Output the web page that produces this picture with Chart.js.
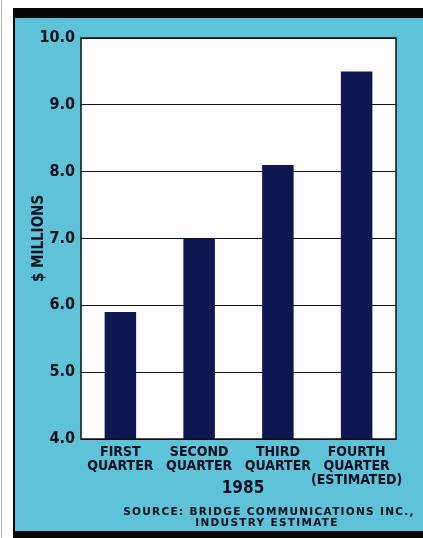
<!DOCTYPE html>
<html>
<head>
<meta charset="utf-8">
<script src="https://cdn.jsdelivr.net/npm/chart.js@4.4.1/dist/chart.umd.min.js"></script>
<style>
  html, body { margin: 0; padding: 0; background: #ffffff; }
  #wrap { position: relative; width: 423px; height: 538px; }
  canvas { display: block; }
</style>
</head>
<body>
<div id="wrap"><canvas id="c" width="423" height="538"></canvas></div>
<script>
// ---- data ----
const categories = [
  ["FIRST", "QUARTER"],
  ["SECOND", "QUARTER"],
  ["THIRD", "QUARTER"],
  ["FOURTH", "QUARTER", "(ESTIMATED)"]
];
const revenueMillions = [5.9, 7.0, 8.1, 9.5];
const yMin = 4.0;
const yMax = 10.0;
const yStep = 1.0;
const yTitle = "$ MILLIONS";
const yearLabel = "1985";
const sourceLines = ["SOURCE: BRIDGE COMMUNICATIONS INC.,", "INDUSTRY ESTIMATE"];

// ---- styles ----
const TEAL = "#5ec2d9";
const NAVY = "#0e1752";
const INK = "#0b0f1e";
const CONDENSED = "'Liberation Sans Narrow', 'DejaVu Sans Condensed', 'Liberation Sans', sans-serif";

const framePlugin = {
  id: "frame",
  beforeDraw(chart) {
    const ctx = chart.ctx;
    const W = chart.width, H = chart.height;
    const a = chart.chartArea;
    ctx.save();
    ctx.fillStyle = "#ffffff";
    ctx.fillRect(0, 0, W, H);
    // faint page edge line
    ctx.fillStyle = "#b8b8b8";
    ctx.fillRect(1, 0, 1, H);
    // teal panel
    ctx.fillStyle = TEAL;
    ctx.fillRect(14, 8, W - 14, H - 8);
    // black top band
    ctx.fillStyle = "#07070a";
    ctx.fillRect(13, 8, W - 13, 10);
    // left dark edge
    ctx.fillRect(13, 8, 2, H - 8);
    // bottom band
    ctx.fillRect(13, 531, W - 13, H - 531);
    // white plot area
    ctx.fillStyle = "#fdfdfd";
    ctx.fillRect(a.left, a.top, a.right - a.left, a.bottom - a.top);
    ctx.restore();
  },
  afterDatasetsDraw(chart) {
    const ctx = chart.ctx;
    const a = chart.chartArea;
    ctx.save();
    ctx.strokeStyle = "#111111";
    ctx.lineWidth = 1.5;
    ctx.strokeRect(a.left, a.top, a.right - a.left, a.bottom - a.top);
    ctx.restore();
  },
  afterDraw(chart) {
    const ctx = chart.ctx;
    ctx.save();
    ctx.fillStyle = INK;
    ctx.textAlign = "center";
    ctx.textBaseline = "middle";
    ctx.font = "bold 17px " + CONDENSED;
    ctx.fillText(yearLabel, 243, 489);
    ctx.font = "bold 10.5px 'DejaVu Sans', sans-serif";
    if ("letterSpacing" in ctx) ctx.letterSpacing = "1.3px";
    ctx.fillText(sourceLines[0], 269, 512);
    ctx.fillText(sourceLines[1], 267, 523);
    ctx.restore();
  }
};

new Chart(document.getElementById("c"), {
  type: "bar",
  data: {
    labels: categories,
    datasets: [{
      data: revenueMillions,
      backgroundColor: NAVY,
      borderWidth: 0,
      barPercentage: 0.4,
      categoryPercentage: 1.0
    }]
  },
  options: {
    responsive: false,
    animation: false,
    devicePixelRatio: 1,
    layout: { padding: { left: 0, right: 27, top: 38, bottom: 0 } },
    plugins: {
      legend: { display: false },
      tooltip: { enabled: false },
      title: { display: false }
    },
    scales: {
      x: {
        offset: true,
        grid: { display: false, drawTicks: false },
        border: { display: false },
        ticks: {
          color: INK,
          padding: 6,
          maxRotation: 0,
          autoSkip: false,
          font: { family: CONDENSED, size: 14, weight: "bold", lineHeight: 1.0 }
        },
        afterFit(scale) { scale.height = 99; }
      },
      y: {
        min: yMin,
        max: yMax,
        grid: { color: "#111111", lineWidth: 1, drawTicks: false },
        border: { display: false },
        ticks: {
          stepSize: yStep,
          color: INK,
          padding: 6,
          font: { family: CONDENSED, size: 16, weight: "bold" },
          callback: (v) => Number(v).toFixed(1)
        },
        title: {
          display: true,
          text: yTitle,
          color: INK,
          font: { family: CONDENSED, size: 15, weight: "bold" },
          padding: { top: 30, bottom: 0 }
        },
        afterFit(scale) { scale.width = 81; }
      }
    }
  },
  plugins: [framePlugin]
});
</script>
</body>
</html>
